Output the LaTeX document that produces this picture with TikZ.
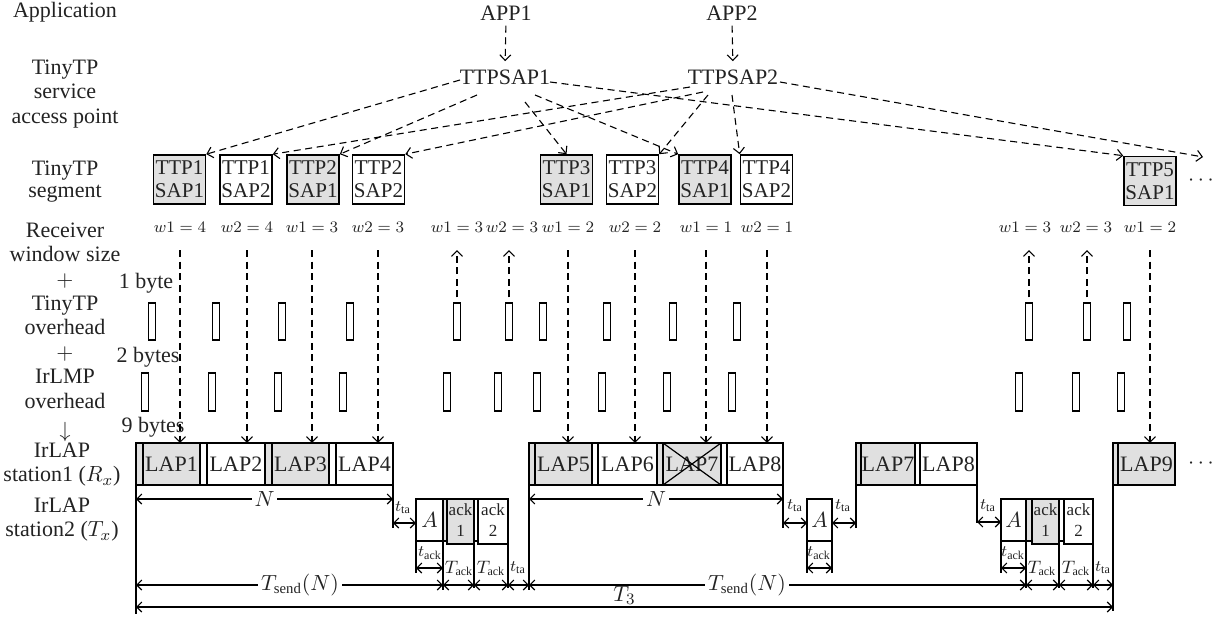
\documentclass[tikz,border=0pt]{standalone}
\usepackage{fontspec}
\setmainfont{Liberation Serif}
\usetikzlibrary{arrows.meta,calc}
\definecolor{shade}{RGB}{224,224,224}
\definecolor{ink}{RGB}{35,35,35}
\newcommand\lapframe[7]{% name, strip x, body x, end x, fill, text, top y
  \draw[frm, fill=#5] (#2,#7) rectangle (#3,#7+42);
  \node[frm, fill=#5, anchor=north west, minimum width={(#4-#3)*0.5pt}, minimum height=21pt] (#1) at (#3,#7) {#6};}
\newcommand\acktxt[1]{\begin{tabular}{@{}c@{}}\fontsize{8.5}{9}\selectfont ack\\[-1.5pt]\fontsize{8.5}{9}\selectfont #1\end{tabular}}
\begin{document}
\begin{tikzpicture}[x=0.5pt,y=-0.5pt,
  lbl/.style={font=\fontsize{11}{12.2}\selectfont, text=ink, inner sep=0pt, align=center},
  seg/.style={draw, line width=0.8pt, minimum width=26pt, minimum height=24.5pt, inner sep=0pt, align=center, font=\fontsize{10.5}{11.5}\selectfont, text=ink},
  dsh/.style={dash pattern=on 3.5pt off 2.3pt, line width=0.55pt},
  tip/.style={-{Straight Barb[length=2.8pt,width=5.5pt]}},
  dim/.style={{Straight Barb[length=2.5pt,width=5pt]}-{Straight Barb[length=2.5pt,width=5pt]}, line width=0.55pt},
  frm/.style={draw, line width=0.7pt, inner sep=0pt, outer sep=0pt, text=ink, align=center, font=\fontsize{11}{12}\selectfont},
  ovh/.style={draw, line width=0.6pt, minimum width=3.5pt, inner sep=0pt},
  wl/.style={font=\fontsize{8}{9}\selectfont, inner sep=0pt, text=ink},
  sml/.style={font=\fontsize{8}{9}\selectfont, inner sep=0.5pt, text=ink},
  ml/.style={font=\fontsize{10.5}{12}\selectfont, inner sep=1.5pt, text=ink, fill=white}]
\fill[white] (0,0) rectangle (1222,621);
\useasboundingbox (0,0) rectangle (1222,621);

% ---------- left column ----------
\node[lbl] (lapp) at (65,12) {Application};
\node[lbl, font=\fontsize{11}{12.1}\selectfont] (lsap) at (65,94) {TinyTP\\service\\access point};
\node[lbl, font=\fontsize{11}{11}\selectfont] (lseg) at (65,182) {TinyTP\\segment};
\node[lbl, font=\fontsize{11}{12.2}\selectfont] (lwin) at (65,315.5) {Receiver\\window size\\$+$\\TinyTP\\overhead\\$+$\\IrLMP\\overhead};
\node[lbl] (ldown) at (65,432) {$\downarrow$};
\node[lbl, font=\fontsize{11}{12}\selectfont] (ls1) at (62,465) {IrLAP\\station1 ($R_x$)};
\node[lbl, font=\fontsize{11}{12}\selectfont] (ls2) at (62,520) {IrLAP\\station2 ($T_x$)};
\node[lbl] (b1) at (146,283) {1 byte};
\node[lbl] (b2) at (148,357) {2 bytes};
\node[lbl] (b9) at (153,427) {9 bytes};

% ---------- applications and SAPs ----------
\node[lbl] (app1) at (506,13) {APP1};
\node[lbl] (app2) at (732,13) {APP2};
\node[lbl] (sap1) at (505,77) {TTPSAP1};
\node[lbl] (sap2) at (733,77) {TTPSAP2};
\draw[dsh,tip,shorten <=2.5pt,shorten >=4pt] (app1.south) -- (sap1.north);
\draw[dsh,tip,shorten <=2.5pt,shorten >=4pt] (app2.south) -- (sap2.north);

% ---------- segments ----------
\node[seg, fill=shade] (t11) at (179.5,179.5) {TTP1\\SAP1};
\node[seg] (t12) at (246,179.5) {TTP1\\SAP2};
\node[seg, fill=shade] (t21) at (313,179.5) {TTP2\\SAP1};
\node[seg] (t22) at (378.5,179.5) {TTP2\\SAP2};
\node[seg, fill=shade] (t31) at (566.5,179.5) {TTP3\\SAP1};
\node[seg] (t32) at (632.5,179.5) {TTP3\\SAP2};
\node[seg, fill=shade] (t41) at (705,179.5) {TTP4\\SAP1};
\node[seg] (t42) at (766.5,179.5) {TTP4\\SAP2};
\node[seg, fill=shade] (t51) at (1150,181) {TTP5\\SAP1};
\node[lbl] (tdots) at (1201,181) {$\cdots$};
\coordinate (nxt) at (1203,157);

\draw[dsh,tip] ([shift={(-45,3)}]sap1.center) -- (t11.north east);
\draw[dsh,tip] ([shift={(-28,18)}]sap1.center) -- (t21.north east);
\draw[dsh,tip] ([shift={(20,25)}]sap1.center) -- (t31.north);
\draw[dsh,tip] ([shift={(30,18)}]sap1.center) -- (t41.north west);
\draw[dsh,tip] ([shift={(45,5)}]sap1.center) -- (t51.north west);
\draw[dsh,tip] ([shift={(-43,10)}]sap2.center) -- (t12.north east);
\draw[dsh,tip] ([shift={(-30,15)}]sap2.center) -- (t22.north east);
\draw[dsh,tip] ([shift={(-25,18)}]sap2.center) -- (t32.north east);
\draw[dsh,tip] ([shift={(-1,18)}]sap2.center) -- (t42.north west);
\draw[dsh,tip] ([shift={(47,5)}]sap2.center) -- (nxt);

% ---------- window sizes ----------
\foreach \n/\x/\t in {1/180/{w1 = 4},2/247/{w2 = 4},3/312/{w1 = 3},4/378/{w2 = 3},5/457/{w1 = 3},6/512/{w2 = 3},7/568/{w1 = 2},8/635/{w2 = 2},9/706/{w1 = 1},10/767/{w2 = 1},11/1025/{w1 = 3},12/1086/{w2 = 3},13/1150/{w1 = 2}}{
  \node[wl] (w\n) at (\x,227) {$\t$};
  \coordinate (w\n b) at ($(w\n.center)+(0,23)$);
}

% ---------- overhead rectangles ----------
\foreach \n/\x in {1/152,2/216,3/282,4/350,5/457,6/509,7/543,8/607,9/673,10/737,11/1029,12/1087,13/1127}{
  \node[ovh, minimum height=18.5pt] (o\n) at (\x,321.5) {};
}
\foreach \n/\x in {1/145,2/212,3/278,4/343,5/447,6/498,7/537,8/602,9/667,10/732,11/1019,12/1076,13/1121}{
  \node[ovh, minimum height=19pt] (m\n) at (\x,392) {};
}

% ---------- station 1 frames ----------
\lapframe{lap1}{136}{143}{200}{shade}{LAP1}{443}
\lapframe{lap2}{200}{207}{265}{white}{LAP2}{443}
\lapframe{lap3}{265}{272}{329}{shade}{LAP3}{443}
\lapframe{lap4}{329}{336}{393}{white}{LAP4}{443}
\lapframe{lap5}{529}{535}{592}{shade}{LAP5}{443}
\lapframe{lap6}{592}{598}{657}{white}{LAP6}{443}
\lapframe{lap7}{657}{663}{721}{shade}{LAP7}{443}
\lapframe{lap8}{721}{727}{783}{white}{LAP8}{443}
\lapframe{lap7b}{856}{861}{915}{shade}{LAP7}{443}
\lapframe{lap8b}{915}{920}{977}{white}{LAP8}{443}
\lapframe{lap9}{1113}{1118}{1175}{shade}{LAP9}{443}
\node[lbl] (ldots) at (1201,464) {$\cdots$};
\draw[line width=0.6pt] (lap7.north west) -- (lap7.south east) (lap7.south west) -- (lap7.north east);

% ---------- station 2 frames ----------
\node[frm, anchor=north west, minimum width=13.5pt, minimum height=21pt] (a1) at (416,499) {$A$};
\lapframe{k11}{443}{447}{474}{shade}{\acktxt{1}}{499}
\lapframe{k12}{474}{478}{508}{white}{\acktxt{2}}{499}
\node[frm, anchor=north west, minimum width=12.5pt, minimum height=21pt] (a2) at (807,499) {$A$};
\node[frm, anchor=north west, minimum width=12.5pt, minimum height=21pt] (a3) at (1001,499) {$A$};
\lapframe{k21}{1026}{1032}{1059}{shade}{\acktxt{1}}{499}
\lapframe{k22}{1059}{1064}{1093}{white}{\acktxt{2}}{499}

% ---------- dashed arrows to/from windows ----------
\foreach \w/\l in {1/lap1,2/lap2,3/lap3,4/lap4,7/lap5,8/lap6,9/lap7,10/lap8,13/lap9}{
  \draw[dsh,tip] (w\w b) -- (w\w b |- \l.north);
}
\foreach \o in {5,6,11,12}{
  \draw[dsh,tip,shorten <=2.5pt] (o\o.north) -- (o\o.north |- w\o b);
}

% ---------- signal edges ----------
\begin{scope}[line width=0.7pt]
\draw (136,443) -- (136,614);
\draw (393,485) -- (393,528);
\draw (416,541) -- (416,573);
\draw (443,541) -- (443,590);
\draw (474,541) -- (474,588);
\draw (508,541) -- (508,588);
\draw (529,485) -- (529,590);
\draw (783,485) -- (783,528);
\draw (807,541) -- (807,573);
\draw (832,541) -- (832,573);
\draw (856,485) -- (856,528);
\draw (977,485) -- (977,523);
\draw (1001,541) -- (1001,573);
\draw (1026,541) -- (1026,588);
\draw (1059,541) -- (1059,588);
\draw (1093,541) -- (1093,588);
\draw (1113,485) -- (1113,611);
\end{scope}

% ---------- dimensions ----------
\draw[dim] (136,499) -- node[ml] {$N$} (393,499);
\draw[dim] (529,499) -- node[ml] {$N$} (783,499);
\draw[dim] (393,523) -- (416,523);  \node[sml] at (403,508) {$t_{\mathrm{ta}}$};
\draw[dim] (783,523) -- (807,523);  \node[sml] at (795,506) {$t_{\mathrm{ta}}$};
\draw[dim] (832,523) -- (856,523);  \node[sml] at (843,506) {$t_{\mathrm{ta}}$};
\draw[dim] (977,522) -- (1001,522); \node[sml] at (988,506) {$t_{\mathrm{ta}}$};
\draw[dim] (416,568) -- (443,568);  \node[sml] at (430,553) {$t_{\mathrm{ack}}$};
\draw[dim] (807,568) -- (832,568);  \node[sml] at (819,553) {$t_{\mathrm{ack}}$};
\draw[dim] (1001,568) -- (1026,568);\node[sml] at (1013,553) {$t_{\mathrm{ack}}$};
\draw[dim] (136,585) -- (443,585);  \node[ml] at (300,585) {$T_{\mathrm{send}}(N)$};
\draw[dim] (443,585) -- (474,585);  \node[sml,font=\fontsize{9}{10}\selectfont] at (459,568) {$T_{\mathrm{ack}}$};
\draw[dim] (474,585) -- (508,585);  \node[sml,font=\fontsize{9}{10}\selectfont] at (491,568) {$T_{\mathrm{ack}}$};
\draw[dim] (508,585) -- (529,585);  \node[sml] at (518,568) {$t_{\mathrm{ta}}$};
\draw[dim] (529,585) -- (1026,585); \node[ml] at (747,585) {$T_{\mathrm{send}}(N)$};
\draw[dim] (1026,585) -- (1059,585);\node[sml,font=\fontsize{9}{10}\selectfont] at (1042,568) {$T_{\mathrm{ack}}$};
\draw[dim] (1059,585) -- (1093,585);\node[sml,font=\fontsize{9}{10}\selectfont] at (1076,568) {$T_{\mathrm{ack}}$};
\draw[dim] (1093,585) -- (1113,585);\node[sml] at (1103,568) {$t_{\mathrm{ta}}$};
\draw[dim] (136,607) -- node[lbl, above=1pt] {$T_3$} (1113,607);
\end{tikzpicture}
\end{document}
